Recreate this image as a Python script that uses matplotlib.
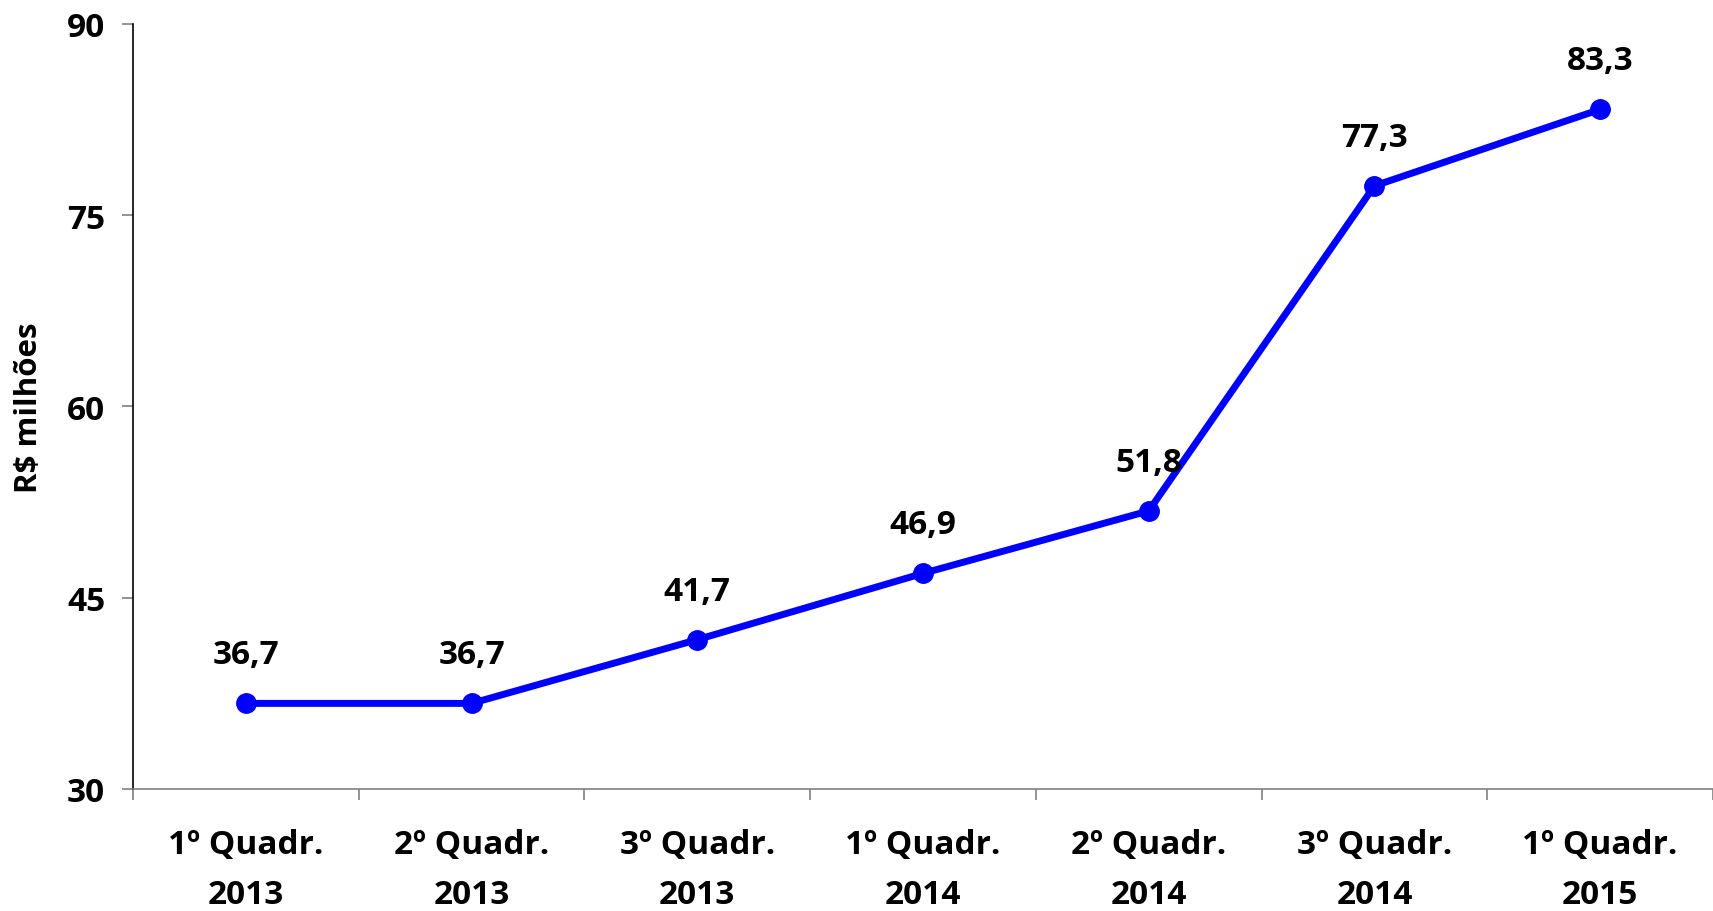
import matplotlib
matplotlib.use("Agg")
import matplotlib.pyplot as plt
import numpy as np

categories = ["1º Quadr.\n2013", "2º Quadr.\n2013", "3º Quadr.\n2013",
              "1º Quadr.\n2014", "2º Quadr.\n2014", "3º Quadr.\n2014",
              "1º Quadr.\n2015"]
values = [36.7, 36.7, 41.7, 46.9, 51.8, 77.3, 83.3]
value_labels = ["36,7", "36,7", "41,7", "46,9", "51,8", "77,3", "83,3"]
y_ticks = [30, 45, 60, 75, 90]

plt.rcParams["font.family"] = ["Open Sans", "DejaVu Sans"]
plt.rcParams["font.weight"] = "bold"

fig = plt.figure(figsize=(17.13, 9.12), dpi=100)
ax = fig.add_axes([0.0776, 0.134, 0.9224, 0.8386])

x = np.arange(len(values))
ax.plot(x, values, color="#0000FF", linewidth=5, marker="o", markersize=14,
        solid_joinstyle="round")

for xi, v, lab in zip(x, values, value_labels):
    ax.annotate(lab, (xi, v), xytext=(0, 35), textcoords="offset points",
                ha="center", va="center", fontsize=24, fontweight="bold")

ax.set_xlim(-0.5, len(values) - 0.5)
ax.set_ylim(30, 90)
ax.set_yticks(y_ticks)
ax.set_yticklabels([str(t) for t in y_ticks], fontsize=24, fontweight="bold")

ax.set_xticks(x)
ax.set_xticklabels(categories, fontsize=24, fontweight="bold")
for t in ax.get_xticklabels():
    t.set_linespacing(1.7)
ax.set_xticks(np.arange(-0.5, len(values), 1.0), minor=True)
ax.tick_params(axis="x", which="major", length=0, pad=28)
ax.tick_params(axis="x", which="minor", length=8, color="#808080", width=1.2)
ax.tick_params(axis="y", length=8, color="#808080", width=1.2, pad=12)

ax.spines["top"].set_visible(False)
ax.spines["right"].set_visible(False)
ax.spines["left"].set_color("black")
ax.spines["bottom"].set_color("#808080")
ax.spines["left"].set_linewidth(1.2)
ax.spines["bottom"].set_linewidth(1.2)

ax.set_ylabel("R$ milhões", fontsize=22.5, fontweight="bold")
ax.yaxis.set_label_coords(-0.056, 0.5)

fig.savefig("out.png", dpi=100)
